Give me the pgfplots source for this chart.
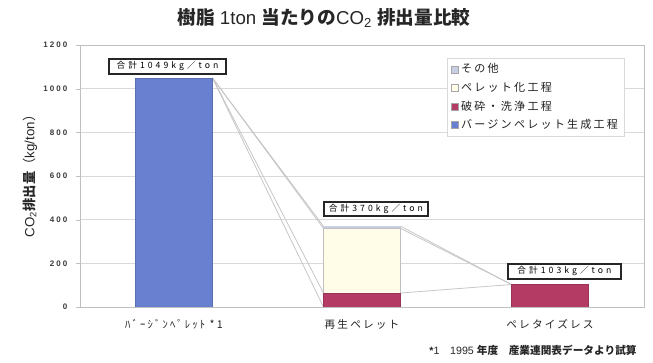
\documentclass[border=0pt]{standalone}
\usepackage{fontspec}
\usepackage{pgfplots}
\pgfplotsset{compat=1.18}
\setmainfont{Noto Sans CJK JP}
\newfontfamily\jp{Noto Sans CJK JP}
\newfontfamily\jpw[LetterSpace=20]{Noto Sans CJK JP}
\newfontfamily\jpww[LetterSpace=35]{Noto Sans CJK JP}
\newfontfamily\lat{Liberation Sans}
\newfontfamily\latw[LetterSpace=25]{Liberation Sans}
\definecolor{cblue}{RGB}{105,128,208}
\definecolor{cred}{RGB}{180,60,100}
\definecolor{ccream}{RGB}{255,252,232}
\definecolor{cother}{RGB}{200,206,228}
\pgfplotstableread{
x virgin crush pellet other
0 1049 0 0 0
1 0 64 296 10
2 0 103 0 0
}\data
\pgfplotsset{sqleg/.style={legend image code/.code={\draw[##1,draw=gray!70] (0pt,-2.6pt) rectangle (5.2pt,2.6pt);}}}
\begin{document}
\begin{tikzpicture}
\useasboundingbox (-60pt,-42pt) rectangle (429.75pt,230.25pt);
\begin{axis}[at={(0pt,0pt)}, anchor=south west, scale only axis,
  width=423pt, height=196.5pt,
  xmin=-0.5, xmax=2.5, ymin=0, ymax=1200,
  ytick={0,200,...,1200}, xtick={0,1,2},
  xticklabels={{ﾊﾞｰｼﾞﾝﾍﾟﾚｯﾄ *1},{再生ペレット},{ペレタイズレス}},
  ymajorgrids, grid style={gray!30, line width=0.6pt},
  axis line style={gray!50, line width=0.6pt},
  ytick pos=left, tick align=outside, major tick length=3pt,
  ytick style={gray!50}, xtick style={draw=none},
  /pgf/number format/assume math mode=true,
  /pgf/number format/1000 sep={},
  yticklabel style={font=\latw\bfseries\fontsize{6}{7}\selectfont, text=gray!45!black, xshift=-3pt},
  xticklabel style={font=\jpw\fontsize{8}{9}\selectfont, text=gray!25!black, yshift=-3pt},
]
\addplot[gray!45, line width=0.6pt] coordinates {(0.205,1049) (0.795,370)};
\addplot[gray!45, line width=0.6pt] coordinates {(0.205,1049) (0.795,360)};
\addplot[gray!45, line width=0.6pt] coordinates {(0.205,1049) (0.795,64)};
\addplot[gray!45, line width=0.6pt] coordinates {(0.205,1049) (0.795,0)};
\addplot[gray!45, line width=0.6pt] coordinates {(1.205,370) (1.795,103)};
\addplot[gray!45, line width=0.6pt] coordinates {(1.205,360) (1.795,103)};
\addplot[gray!45, line width=0.6pt] coordinates {(1.205,64) (1.795,103)};
\end{axis}
\begin{axis}[at={(0pt,0pt)}, anchor=south west, scale only axis,
  width=423pt, height=196.5pt,
  xmin=-0.5, xmax=2.5, ymin=0, ymax=1200,
  hide axis, ybar stacked, bar width=0.41,
  reverse legend,
  legend cell align=left,
  legend style={at={(0.65,0.95)}, anchor=north west, draw=gray!30, fill=white,
    font=\jpw\fontsize{8.3}{10}\selectfont, text=gray!25!black,
    row sep=1.5pt, inner xsep=3pt, inner ysep=2pt},
]
\addplot[fill=cblue, draw=cblue!85!black, line width=0.4pt, sqleg] table[x=x,y=virgin]{\data};
\addlegendentry{バージンペレット生成工程}
\addplot[fill=cred, draw=cred!85!black, line width=0.4pt, sqleg] table[x=x,y=crush]{\data};
\addlegendentry{破砕・洗浄工程}
\addplot[fill=ccream, draw=gray!50, line width=0.5pt, sqleg] table[x=x,y=pellet]{\data};
\addlegendentry{ペレット化工程}
\addplot[fill=cother, draw=none, sqleg] table[x=x,y=other]{\data};
\addlegendentry{その他}
\node[draw=black!85, line width=1.3pt, fill=white, inner sep=1.6pt, minimum width=88pt, minimum height=11.5pt,
  font=\jpww\fontsize{6.5}{7}\selectfont, anchor=south west] at (axis cs:-0.351,1063) {合計1049kg／ton};
\node[draw=black!85, line width=1.3pt, fill=white, inner sep=1.6pt, minimum width=78pt, minimum height=10.5pt,
  font=\jpww\fontsize{6.5}{7}\selectfont, anchor=south west] at (axis cs:0.793,412) {合計370kg／ton};
\node[draw=black!85, line width=1.3pt, fill=white, inner sep=1.6pt, minimum width=85pt, minimum height=11.5pt,
  font=\jpww\fontsize{6.5}{7}\selectfont, anchor=south west] at (axis cs:1.771,124) {合計103kg／ton};
\end{axis}
\node[font=\fontsize{14}{16}\selectfont, text=black!85] at (183pt,216.75pt)
  {\bfseries\jp 樹脂\mdseries\lat\ 1ton \bfseries\jp 当たりの\mdseries\lat CO\textsubscript{2} \bfseries\jp 排出量比較};
\node[rotate=90, font=\fontsize{10}{12}\selectfont, text=black!85] at (-37.5pt,100.5pt)
  {\lat CO\textsubscript{2}\bfseries\jp 排出量\mdseries（\lat kg/ton\jp ）};
\node[anchor=east, font=\fontsize{8}{10}\selectfont, text=black!85] at (421pt,-32.25pt)
  {\lat\bfseries *\mdseries 1\quad 1995 \bfseries\jp 年度\quad 産業連関表データより試算};
\end{tikzpicture}
\end{document}
